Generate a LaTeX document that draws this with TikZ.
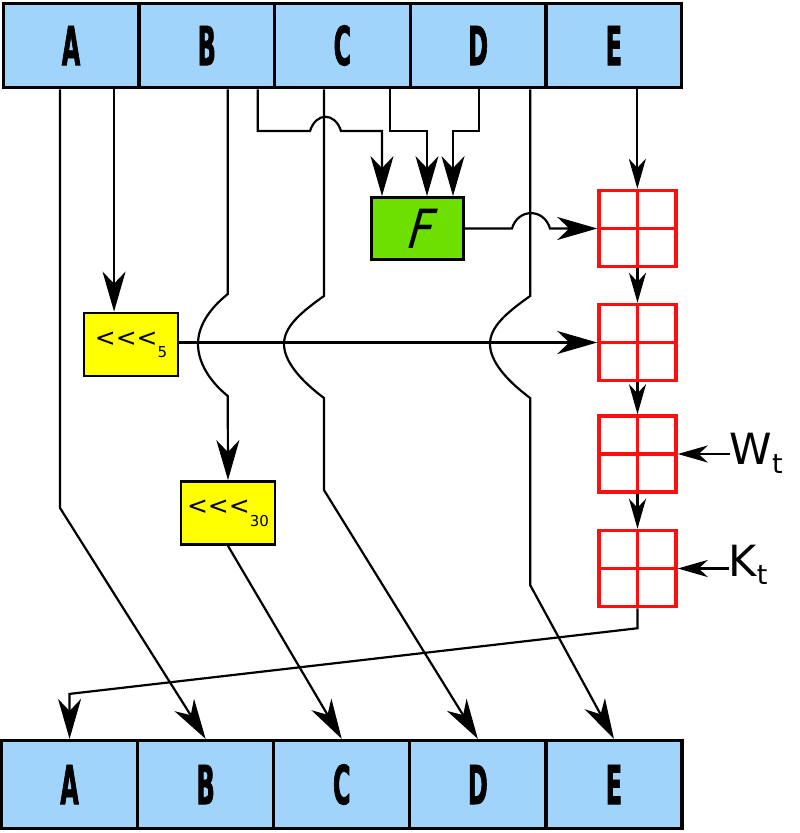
\documentclass[tikz,border=0pt]{standalone}
\usepackage{fontspec}
\setmainfont{DejaVu Sans}
\newfontfamily\barfont{DejaVu Sans}[FakeStretch=0.44,BoldFeatures={FakeBold=1.2}]
\newfontfamily\ffont{DejaVu Sans}[FakeStretch=0.82,FakeSlant=0.28]
\usetikzlibrary{arrows.meta,calc}
\definecolor{regblue}{RGB}{160,212,250}
\definecolor{fgreen}{RGB}{110,224,0}
\definecolor{rotyellow}{RGB}{255,255,0}
\definecolor{addred}{RGB}{255,14,14}
\begin{document}
\begin{tikzpicture}[x=1pt,y=-1pt,
  reg/.style={draw=black,line width=3.2pt,fill=regblue,minimum width=136pt,
    minimum height=85pt,inner sep=0pt,font={\barfont\bfseries\fontsize{54}{54}\selectfont}},
  fbox/.style={draw=black,line width=2.8pt,fill=fgreen,minimum width=92pt,
    minimum height=62pt,inner sep=0pt,font={\ffont\fontsize{54}{54}\selectfont}},
  rotbox/.style={draw=black,line width=2.8pt,fill=rotyellow,minimum width=94pt,
    minimum height=63pt,inner sep=0pt,font={\fontsize{25}{25}\selectfont}},
  adder/.style={draw=addred,line width=3.5pt,minimum width=77pt,minimum height=76pt,inner sep=0pt},
  cross/.style={draw=addred,line width=3.5pt},
  lbl/.style={inner sep=0pt,anchor=base west,font={\fontsize{43}{43}\selectfont}},
  conn/.style={draw=black,line width=2.2pt},
  toBig/.style={-{Stealth[length=40pt,width=23pt,inset=12pt]}},
  toSmall/.style={-{Stealth[length=30pt,width=17pt,inset=9pt]}}
]
\useasboundingbox (0,0) rectangle (800,833);

% top registers
\node[reg,minimum width=135.7pt,minimum height=84.6pt] (topA) at (71.05,45.5) {A};
\node[reg,minimum width=135.7pt,minimum height=84.6pt] (topB) at (206.75,45.5) {B};
\node[reg,minimum width=135.7pt,minimum height=84.6pt] (topC) at (342.45,45.5) {C};
\node[reg,minimum width=135.7pt,minimum height=84.6pt] (topD) at (478.15,45.5) {D};
\node[reg,minimum width=135.7pt,minimum height=84.6pt] (topE) at (613.85,45.5) {E};

% bottom registers
\node[reg,minimum width=136.1pt,minimum height=88pt] (botA) at (69.55,784.5) {A};
\node[reg,minimum width=136.1pt,minimum height=88pt] (botB) at (205.65,784.5) {B};
\node[reg,minimum width=136.1pt,minimum height=88pt] (botC) at (341.75,784.5) {C};
\node[reg,minimum width=136.1pt,minimum height=88pt] (botD) at (477.85,784.5) {D};
\node[reg,minimum width=136.1pt,minimum height=88pt] (botE) at (613.95,784.5) {E};

% function and rotations
\node[fbox] (F) at (417.5,228.5) {F};
\node[rotbox] (rot5) at (131,344.5) {<\kern0pt<\kern0pt<\raisebox{-11pt}{\fontsize{15}{15}\selectfont 5}};
\node[rotbox] (rot30) at (228,513) {<\kern0pt<\kern0pt<\raisebox{-12pt}{\fontsize{15}{15}\selectfont 30}};

% adders
\foreach \n/\yy in {add1/228.5,add2/342.5,add3/454,add4/568.5}{
  \node[adder] (\n) at (637.5,\yy) {};
  \draw[cross] (\n.north) -- (\n.south);
  \draw[cross] (\n.west) -- (\n.east);
}

% labels
\node[lbl] (wlab) at (729.5,464) {W\raisebox{-9pt}{\fontsize{27}{27}\selectfont t}};
\node[lbl] (klab) at (728.5,576) {K\raisebox{-8pt}{\fontsize{27}{27}\selectfont t}};

% start points
\coordinate (a1) at ([xshift=-11pt]topA.south);
\coordinate (a2) at ([xshift=43pt]topA.south);
\coordinate (b1) at ([xshift=21pt]topB.south);
\coordinate (b2) at ([xshift=51pt]topB.south);
\coordinate (c1) at ([xshift=-18.5pt]topC.south);
\coordinate (c2) at ([xshift=47.5pt]topC.south);
\coordinate (d1) at ([xshift=1pt]topD.south);
\coordinate (d2) at ([xshift=52pt]topD.south);
\coordinate (e1) at ([xshift=23.5pt]topE.south);
\coordinate (fin1) at ([xshift=-35.5pt]F.north);
\coordinate (fin2) at ([xshift=9.5pt]F.north);
\coordinate (fin3) at ([xshift=35.5pt]F.north);

% connectors
\draw[conn,toBig] (a1) -- (60.05,508) -- (botB.north);
\draw[conn,toBig] (a2) -- (a2 |- rot5.north);
\draw[conn,toBig] (b1) -- (227.75,294) .. controls (208,310) and (198,327) .. (198,344)
  .. controls (198,361) and (208,380) .. (227.75,396) -- (rot30.north);
\draw[conn,toBig] (b2) -- (257.75,131) -- (310,131) .. controls (316,112) and (335,112) .. (341,131) -| (fin1);
\draw[conn,toBig] (c1) -- (323.95,296) .. controls (300,313) and (284,327) .. (284,344)
  .. controls (284,361) and (300,380) .. (323.95,398) -- (323.95,490) -- (botD.north);
\draw[conn,toBig] (c2) -- (389.95,131) -| (fin2);
\draw[conn,toBig] (d1) -- (479.15,131) -| (fin3);
\draw[conn,toBig] (d2) -- (530.15,296) .. controls (506,313) and (490,327) .. (490,344)
  .. controls (490,361) and (506,380) .. (530.15,398) -- (530.15,585) -- (botE.north);
\draw[conn,toSmall] (e1) -- (e1 |- add1.north);
\draw[conn,toBig] (F.east) -- (512,228.5) .. controls (518,208) and (544,208) .. (550,228.5) -- (add1.west);
\draw[conn,toBig] (rot5.east |- add2.west) -- (add2.west);
\draw[conn,toSmall] (add1.south) -- (add2.north);
\draw[conn,toSmall] (add2.south) -- (add3.north);
\draw[conn,toSmall] (add3.south) -- (add4.north);
\draw[conn,toSmall] (wlab.west |- add3.east) -- (add3.east);
\draw[conn,toSmall] (klab.west |- add4.east) -- (add4.east);
\draw[conn,toBig] (add4.south) -- ++(0,20) -- ($(botA.north)+(0,-45)$) -- (botA.north);
\draw[conn,toBig] (rot30.south) -- (botC.north);
\end{tikzpicture}
\end{document}
